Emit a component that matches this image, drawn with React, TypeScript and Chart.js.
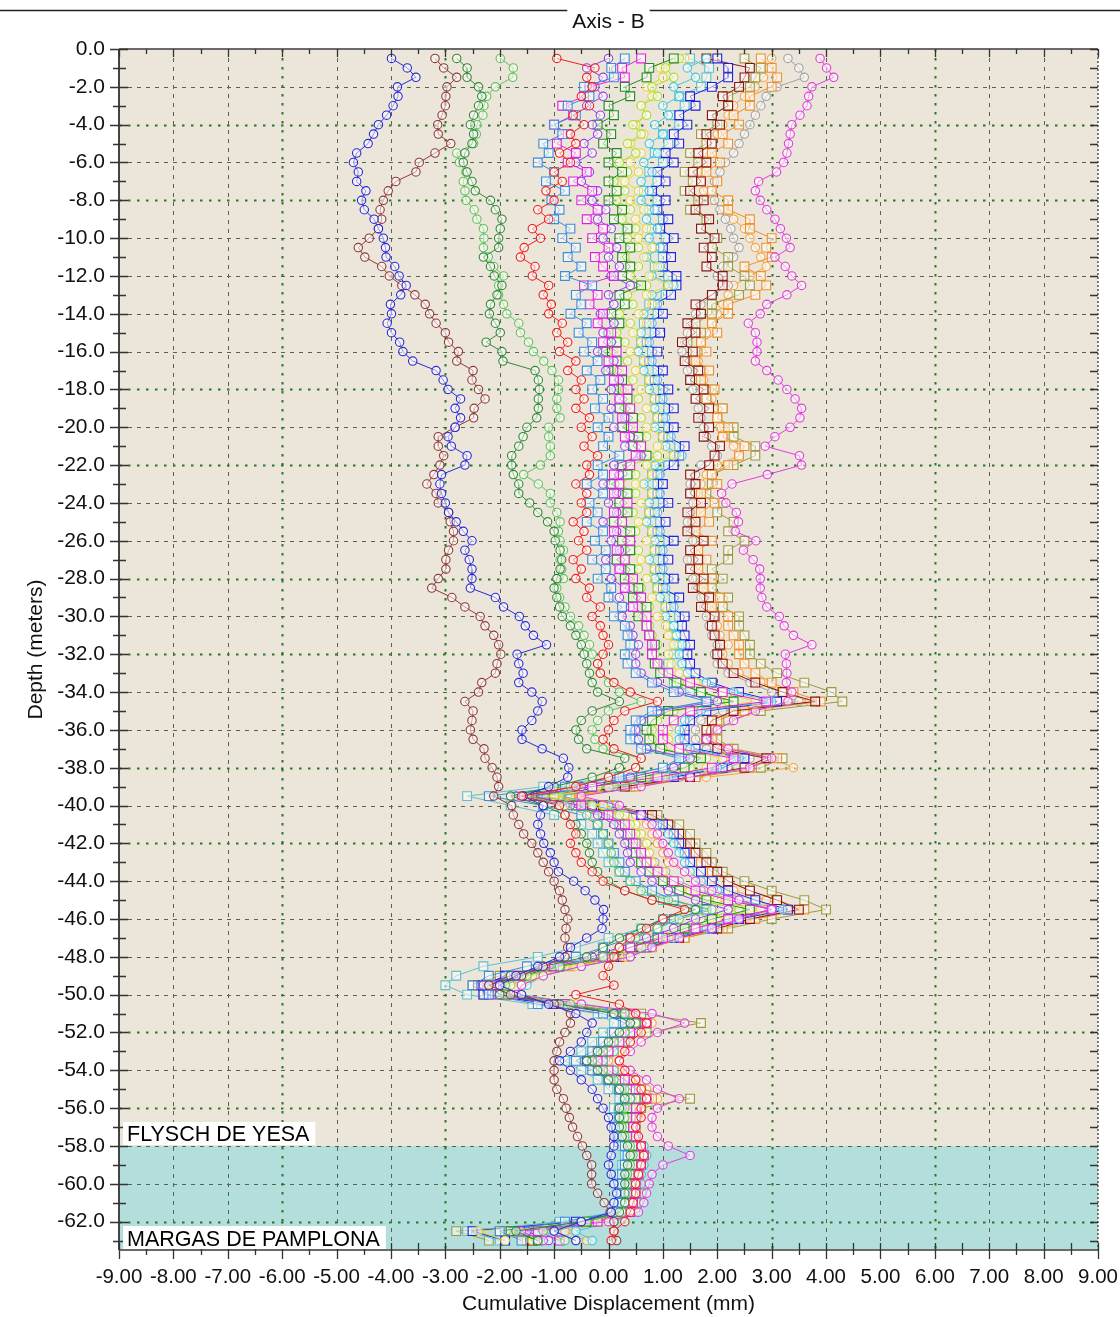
import React, { useEffect, useRef } from 'react';
import { Chart, registerables } from 'chart.js';

Chart.register(...registerables);

const FONT = '"Liberation Sans", Arial, Helvetica, sans-serif';

// Depth of each reading (m), 0.5 m step
const DEPTHS = [
  0.5, 1, 1.5, 2, 2.5, 3, 3.5, 4, 4.5, 5,
  5.5, 6, 6.5, 7, 7.5, 8, 8.5, 9, 9.5, 10,
  10.5, 11, 11.5, 12, 12.5, 13, 13.5, 14, 14.5, 15,
  15.5, 16, 16.5, 17, 17.5, 18, 18.5, 19, 19.5, 20,
  20.5, 21, 21.5, 22, 22.5, 23, 23.5, 24, 24.5, 25,
  25.5, 26, 26.5, 27, 27.5, 28, 28.5, 29, 29.5, 30,
  30.5, 31, 31.5, 32, 32.5, 33, 33.5, 34, 34.5, 35,
  35.5, 36, 36.5, 37, 37.5, 38, 38.5, 39, 39.5, 40,
  40.5, 41, 41.5, 42, 42.5, 43, 43.5, 44, 44.5, 45,
  45.5, 46, 46.5, 47, 47.5, 48, 48.5, 49, 49.5, 50,
  50.5, 51, 51.5, 52, 52.5, 53, 53.5, 54, 54.5, 55,
  55.5, 56, 56.5, 57, 57.5, 58, 58.5, 59, 59.5, 60,
  60.5, 61, 61.5, 62, 62.5, 63,
];

const X_TICKS = [-9, -8, -7, -6, -5, -4, -3, -2, -1, 0, 1, 2, 3, 4, 5, 6, 7, 8, 9];
const Y_TICKS = [0, -2, -4, -6, -8, -10, -12, -14, -16, -18, -20, -22, -24, -26, -28, -30, -32, -34, -36, -38, -40, -42, -44, -46, -48, -50, -52, -54, -56, -58, -60, -62];

const LAYER_BOUNDARY = 58.0;
const LAYER_TOP = 'FLYSCH DE YESA';
const LAYER_BOTTOM = 'MARGAS DE PAMPLONA';

// Cumulative displacement (mm) for each survey
const BLUE_FAR = [
  -3.99, -3.70, -3.54, -3.88, -3.87, -3.96, -4.08, -4.23, -4.32, -4.42,
  -4.63, -4.69, -4.60, -4.63, -4.46, -4.54, -4.49, -4.31, -4.23, -4.14,
  -4.10, -4.09, -3.93, -3.85, -3.72, -3.82, -4.01, -3.99, -4.07, -3.99,
  -3.84, -3.78, -3.60, -3.17, -3.04, -2.95, -2.72, -2.82, -2.72, -2.82,
  -2.95, -2.89,
  -2.60, -2.64, -3.07, -3.10, -3.07, -3.00, -2.94, -2.80, -2.67, -2.51,
  -2.64, -2.56, -2.51, -2.51, -2.54, -2.08, -1.93, -1.64, -1.53, -1.38,
  -1.14, -1.68, -1.65, -1.57, -1.65, -1.41, -1.22, -1.30, -1.41, -1.59,
  -1.59, -1.22, -0.83, -0.73, -0.75, -1.10, -1.57,
  -1.20, -1.25, -1.30, -1.25, -1.19, -1.07, -1.00, -0.92, -0.64, -0.43,
  -0.25, -0.09, -0.10, -0.12, -0.40, -0.70, -0.90, -1.30, -1.70, -2.00,
  -1.60, -1.10, -0.60, -0.30, -0.40, -0.50, -0.70, -0.90, -0.70, -0.50,
  -0.30, -0.20, -0.10, 0.00, 0.05, 0.10, 0.10, 0.05, 0.00, 0.05,
  0.10, 0.15, 0.10, 0.05, -0.50, -1.00, -0.60,
];

const BROWN = [
  -3.19, -3.03, -2.79, -2.97, -2.99, -3.00, -3.06, -3.14, -3.13, -2.90,
  -3.19, -3.48, -3.54, -3.91, -4.05, -4.14, -4.20, -4.17, -4.23, -4.40,
  -4.60, -4.48, -4.17, -4.03, -3.80, -3.56, -3.37, -3.29, -3.17, -3.00,
  -2.94, -2.76, -2.79, -2.49, -2.51, -2.39, -2.27, -2.47, -2.48, -2.82,
  -3.13, -3.13,
  -3.03, -3.10, -3.21, -3.34, -3.17, -3.13, -2.94, -2.91, -2.85, -2.85,
  -2.94, -2.99, -2.99, -3.13, -3.25, -2.88, -2.64, -2.36, -2.27, -2.11,
  -2.02, -1.98, -2.05, -2.08, -2.33, -2.39, -2.64, -2.49, -2.51, -2.54,
  -2.49, -2.29, -2.27, -2.14, -2.05, -2.02, -2.11,
  -1.78, -1.75, -1.65, -1.56, -1.41, -1.30, -1.20, -1.10, -1.00, -0.90,
  -0.85, -0.80, -0.75, -0.78, -0.80, -0.75, -0.80, -1.20, -1.60, -2.20,
  -1.80, -1.00, -0.70, -0.70, -0.80, -0.90, -0.95, -1.00, -1.00, -1.00,
  -0.95, -0.83, -0.78, -0.72, -0.66, -0.57, -0.48, -0.40, -0.31, -0.31,
  -0.31, -0.20, -0.08, 0.03, 0.10, 0.10, 0.15,
];

const DARK_GREEN = [
  -2.79, -2.60, -2.60, -2.39, -2.33, -2.39, -2.48, -2.54, -2.48, -2.51,
  -2.64, -2.67, -2.60, -2.51, -2.45, -2.17, -2.08, -1.96, -1.99, -2.02,
  -2.02, -2.30, -2.17, -2.10, -1.96, -2.05, -2.17, -2.19, -2.08, -1.99,
  -2.25, -1.96, -1.94, -1.35, -1.29, -1.27, -1.29, -1.29, -1.32, -1.50,
  -1.57, -1.65,
  -1.78, -1.78, -1.75, -1.65, -1.65, -1.45, -1.30, -1.12, -1.00, -0.98,
  -0.89, -0.86, -0.89, -0.95, -1.00,
  -0.95, -0.90, -0.85, -0.70, -0.60, -0.50, -0.45, -0.40, -0.35, -0.30,
  -0.20, 0.20, -0.30, -0.50, -0.60, -0.55, -0.40, 0.30, 0.20, -0.30,
  -1.00, -1.80, -1.20,
  -0.80, -0.60, -0.50, -0.40, -0.35, -0.30, -0.20, 0.00, 0.30, 0.80,
  1.60, 1.00, 0.60, 0.20, -0.10, -0.40, -1.20, -1.80, -2.20, -2.00,
  -0.90, 0.10, 0.40, 0.20, 0.00, -0.20, -0.40, -0.20, 0.00, 0.20,
  0.30, 0.20, 0.20, 0.20, 0.25, 0.35, 0.40, 0.35, 0.30, 0.30,
  0.30, 0.30, 0.20, -0.50, -1.70, -1.30,
];

const LIGHT_GREEN = [
  -1.99, -1.75, -1.76, -2.08, -2.24, -2.29, -2.31, -2.42, -2.43, -2.48,
  -2.79, -2.74, -2.62, -2.67, -2.64, -2.62, -2.47, -2.42, -2.30, -2.29,
  -2.30, -2.21, -2.11, -1.93, -2.02, -2.02, -1.93, -1.87, -1.65, -1.62,
  -1.47, -1.38, -1.19, -1.04, -0.92, -0.92, -0.95, -0.95, -0.89, -1.10,
  -1.10, -1.07,
  -1.07, -1.25, -1.56, -1.29, -1.07, -1.07, -0.95, -0.89, -0.92, -0.89,
  -0.83, -0.89, -0.86, -0.83, -0.95,
  -0.90, -0.80, -0.70, -0.55, -0.45, -0.35, -0.30, -0.20, -0.15, 0.00,
  0.20, 0.60, 0.00, -0.20, -0.30, -0.25, -0.10, 0.60, 0.50, 0.00,
  -0.70, -1.50, -0.80,
  -0.40, -0.20, -0.10, 0.00, 0.05, 0.10, 0.20, 0.40, 0.60, 1.10,
  1.90, 1.30, 0.90, 0.50, 0.20, -0.10, -0.90, -1.50, -1.90, -1.90,
  -0.70, 0.30, 0.50, 0.30, 0.10, -0.10, -0.30, -0.10, 0.10, 0.30,
  0.40, 0.30, 0.30, 0.25, 0.30, 0.40, 0.45, 0.40, 0.35, 0.35,
  0.35, 0.30, 0.25, -0.40, -1.20, -0.80,
];

const MAGENTA_FAR = [
  3.89, 4.01, 4.14, 3.74, 3.68, 3.65, 3.52, 3.37, 3.34, 3.31,
  3.28, 3.22, 3.09, 2.76, 2.70, 2.79, 2.91, 3.06, 3.16, 3.27,
  3.34, 3.06, 3.25, 3.37, 3.55, 3.28, 2.91, 2.79, 2.57, 2.70,
  2.73, 2.73, 2.70, 2.91, 3.12, 3.28, 3.43, 3.55, 3.52, 3.34,
  3.06, 2.88,
  3.51, 3.55, 2.92, 2.27, 2.08, 2.16, 2.35, 2.39, 2.33, 2.71,
  2.48, 2.66, 2.78, 2.79, 2.79, 2.82, 2.91, 3.14, 3.23, 3.40,
  3.74, 3.25, 3.27, 3.28, 3.27, 3.37,
  3.30, 2.70, 2.30, 2.00, 1.80, 2.20, 3.00, 2.60, 1.50, 0.60, -0.50, 0.20,
  0.60, 0.80, 0.90, 1.00, 1.10, 1.20, 1.40, 1.60, 1.90, 2.40,
  3.00, 2.40, 1.90, 1.30, 0.80, 0.40, -0.50, -1.20, -1.60, -1.70,
  -0.50, 0.80, 1.40, 0.90, 0.60, 0.40, 0.20, 0.40, 0.70, 0.90,
  1.30, 0.90, 0.80, 0.80, 0.90, 1.10, 1.50, 1.00, 0.80, 0.75,
  0.70, 0.65, 0.55, 0.00, -1.60, -1.20,
];

const GRAY_CIRCLES = [
  3.3, 3.5, 3.6, 3.1, 2.9, 2.8, 2.7, 2.6, 2.5, 2.4,
  2.3, 2.15, 2.05, 1.95, 1.9, 1.95, 2.05, 2.15, 2.25, 2.3,
  2.4, 2.3, 2.1, 2.0, 2.2, 1.9, 1.7, 1.6, 1.5, 1.45,
  1.4, 1.35, 1.4, 1.45, 1.5, 1.55, 1.6, 1.65, 1.7, 1.75,
  1.8, 1.9, 2.0, 1.7, 1.6, 1.5, 1.5, 1.55, 1.5, 1.45,
  1.5, 1.55, 1.5, 1.45, 1.5, 1.55, 1.6, 1.7, 1.75, 1.8,
  1.85, 1.9, 2.0, 1.95, 2.0, 2.2, 2.6, 3.0, 3.5, 2.1,
  1.7, 1.6, 1.6, 1.8, 2.6, 2.2, 1.3, 0.2, -1.1, -0.2,
  0.3, 0.5, 0.6, 0.7, 0.75, 0.85, 1.05, 1.3, 1.7, 2.3,
  3.0, 2.2, 1.7, 1.1, 0.6, 0.2, -0.7, -1.4, -1.8, -1.8,
  -0.7, 0.3, 0.6, 0.4, 0.2, 0.0, -0.2, 0.0, 0.2, 0.4,
  0.6, 0.4, 0.4, 0.4, 0.45, 0.55, 0.6, 0.55, 0.5, 0.5,
  0.5, 0.45, 0.4, -0.2, -1.0, -0.6,
];

const ORANGE_CIRCLES = [
  3.0, 2.95, 2.85, 2.7, 2.5, 2.3, 2.2, 2.1, 2.0, 1.9,
  1.8, 1.75, 1.7, 1.7, 1.75, 1.9, 2.1, 2.3, 2.5, 2.6,
  2.7, 2.8, 2.9, 2.6, 2.3, 2.2, 2.1, 2.0, 1.9, 1.8,
  1.7, 1.65, 1.65, 1.7, 1.75, 1.8, 1.9, 2.0, 2.0, 2.05,
  2.1, 2.3, 2.4, 2.0, 1.8, 1.7, 1.6, 1.65, 1.6, 1.55,
  1.5, 1.6, 1.55, 1.5, 1.55, 1.6, 1.65, 1.75, 1.8, 1.9,
  2.0, 2.05, 2.2, 2.1, 2.2, 2.4, 2.8, 3.2, 3.7, 2.3,
  1.9, 1.8, 1.8, 2.1, 3.0, 3.4, 1.8, 0.5, -0.6, 0.1,
  0.5, 0.7, 0.8, 0.9, 1.0, 1.1, 1.4, 1.8, 2.3, 2.9,
  3.5, 2.5, 1.9, 1.3, 0.8, 0.4, -0.5, -1.2, -1.6, -1.6,
  -0.5, 0.5, 0.8, 0.6, 0.4, 0.2, 0.0, 0.2, 0.5, 0.7,
  0.9, 0.6, 0.55, 0.5, 0.55, 0.65, 0.7, 0.65, 0.6, 0.6,
  0.6, 0.55, 0.5, 0.0, -0.8, -0.4,
];

const RED_CIRCLES = [
  -0.95, -0.25, -0.4, -0.3, -0.5, -0.35, -0.65, -0.45, -0.7, -0.6,
  -0.9, -0.7, -1.0, -0.85, -1.15, -1.0, -1.3, -1.1, -1.4, -1.25,
  -1.55, -1.62, -1.35, -1.4, -1.1, -1.2, -1.05, -1.1, -0.85, -0.95,
  -0.75, -0.9, -0.6, -0.75, -0.5, -0.6, -0.45, -0.6, -0.35, -0.5,
  -0.3, -0.45, -0.2, -0.4, -0.35, -0.6, -0.4, -0.5, -0.4, -0.65,
  -0.45, -0.55, -0.4, -0.65, -0.5, -0.6, -0.35, -0.4, -0.15, -0.3,
  -0.15, -0.1, 0.0, -0.1, -0.2, -0.15, 0.1, 0.4, 0.9, 0.3,
  0.1, 0.0, -0.1, 0.1, 0.6, 0.5, 0.0, -0.6, -1.6, -0.9,
  -0.8, -0.7, -0.6, -0.7, -0.6, -0.5, -0.3, -0.1, 0.3, 0.8,
  1.4, 1.0, 0.7, 0.4, 0.2, 0.1, 0.0, -0.1, 0.1, -0.6,
  0.2, 0.5, 0.7, 0.6, 0.4, 0.3, 0.2, 0.3, 0.5, 0.6,
  0.7, 0.6, 0.6, 0.5, 0.55, 0.6, 0.65, 0.6, 0.55, 0.5,
  0.5, 0.45, 0.4, 0.3, 0.1, 0.05,
];

const LIGHT_BLUE_SQUARES = [
  0.3, 0.05, 0.1, -0.45, -0.35, -0.75, -0.6, -1.0, -0.85, -1.2,
  -1.1, -1.3, -1.0, -1.15, -0.8, -1.05, -0.9, -1.0, -0.7, -0.85,
  -0.6, -0.75, -0.5, -0.8, -0.3, -0.6, -0.5, -0.7, -0.4, -0.55,
  -0.3, -0.45, -0.2, -0.4, -0.15, -0.3, -0.1, -0.25, 0.0, -0.2,
  0.0, -0.1, 0.2, -0.2, -0.1, -0.4, -0.1, -0.35, -0.2, -0.4,
  -0.1, -0.25, -0.05, -0.3, -0.05, -0.2, 0.05, 0.0, 0.25, 0.1,
  0.3, 0.35, 0.4, 0.3, 0.35, 0.5, 0.8, 1.2, 1.8, 0.8,
  0.5, 0.4, 0.4, 0.6, 1.3, 1.0, 0.2, -0.8, -2.2, -1.2,
  -0.5, -0.2, -0.1, 0.0, 0.1, 0.2, 0.3, 0.5, 0.8, 1.2,
  1.8, 1.2, 0.9, 0.4, -0.1, -0.6, -1.5, -2.2, -2.5, -2.2,
  -1.3, -0.1, 0.3, 0.1, -0.1, -0.3, -0.6, -0.3, 0.0, 0.2,
  0.3, 0.2, 0.2, 0.15, 0.2, 0.3, 0.35, 0.3, 0.25, 0.25,
  0.3, 0.25, 0.15, -0.8, -2.0, -1.6,
];

const MAGENTA_SQUARES = [
  0.6, 0.25, 0.3, -0.35, -0.45, -0.85, -0.65, -1.0, -0.75, -0.95,
  -0.6, -0.75, -0.4, -0.65, -0.3, -0.5, -0.2, -0.4, -0.1, -0.3,
  0.0, -0.25, -0.1, 0.1, -0.45, -0.2, -0.35, -0.1, -0.2, 0.05,
  -0.1, 0.15, 0.0, 0.25, 0.1, 0.35, 0.2, 0.4, 0.25, 0.45,
  0.3, 0.6, 0.5, 0.4, 0.1, 0.2, 0.1, 0.35, 0.1, 0.25,
  0.1, 0.4, 0.15, 0.3, 0.2, 0.45, 0.3, 0.6, 0.45, 0.7,
  0.7, 0.75, 0.8, 0.8, 0.9, 1.1, 1.5, 2.1, 2.9, 1.5,
  1.2, 1.0, 1.0, 1.3, 2.3, 1.9, 0.9, -0.3, -1.5, -0.5,
  0.0, 0.3, 0.4, 0.5, 0.6, 0.7, 0.9, 1.2, 1.6, 2.2,
  3.0, 2.2, 1.6, 1.0, 0.4, -0.1, -1.0, -1.7, -2.1, -2.0,
  -0.8, 0.4, 0.7, 0.4, 0.2, 0.0, -0.2, 0.0, 0.3, 0.5,
  0.7, 0.5, 0.5, 0.45, 0.5, 0.6, 0.65, 0.6, 0.55, 0.5,
  0.5, 0.45, 0.4, -0.2, -1.3, -0.9,
];

const PURPLE_CIRCLES = [
  0.0, -0.4, -0.1, -0.25, -0.1, -0.4, -0.15, -0.3, -0.2, -0.45,
  -0.3, -0.6, -0.35, -0.5, -0.2, -0.3, -0.05, -0.2, 0.05, -0.1,
  0.15, 0.0, 0.2, 0.05, 0.4, 0.0, 0.1, -0.15, 0.1, -0.1,
  0.05, -0.2, 0.1, -0.05, 0.2, 0.05, 0.2, 0.05, 0.3, 0.1,
  0.4, 0.3, 0.6, 0.1, 0.2, -0.1, 0.15, 0.0, 0.15, -0.1,
  0.15, 0.05, 0.2, -0.05, 0.2, 0.05, 0.3, 0.2, 0.4, 0.25,
  0.4, 0.45, 0.55, 0.5, 0.5, 0.6, 0.9, 1.3, 2.0, 0.9,
  0.6, 0.5, 0.55, 0.7, 1.5, 1.2, 0.4, -0.5, -1.7, -0.7,
  -0.2, 0.1, 0.2, 0.3, 0.35, 0.4, 0.6, 0.8, 1.1, 1.6,
  2.2, 1.6, 1.2, 0.7, 0.2, -0.3, -1.1, -1.8, -2.3, -2.1,
  -1.0, 0.1, 0.4, 0.2, 0.0, -0.2, -0.4, -0.2, 0.0, 0.2,
  0.4, 0.25, 0.2, 0.2, 0.25, 0.35, 0.4, 0.35, 0.3, 0.3,
  0.35, 0.3, 0.25, -0.5, -1.5, -1.1,
];

const DARK_GREEN_SQUARES = [
  1.2, 0.75, 0.7, 0.3, 0.4, 0.0, 0.1, -0.2, 0.05, -0.1,
  0.15, 0.0, 0.25, 0.0, 0.15, 0.0, 0.25, 0.1, 0.35, 0.2,
  0.4, 0.25, 0.4, 0.25, 0.6, 0.2, 0.3, 0.05, 0.2, 0.0,
  0.15, -0.1, 0.15, 0.0, 0.25, 0.1, 0.35, 0.2, 0.45, 0.25,
  0.55, 0.45, 0.7, 0.25, 0.35, 0.05, 0.35, 0.2, 0.35, 0.1,
  0.4, 0.25, 0.4, 0.15, 0.4, 0.3, 0.55, 0.45, 0.7, 0.55,
  0.7, 0.75, 0.85, 0.8, 0.85, 0.95, 1.25, 1.7, 2.3, 1.1,
  0.8, 0.7, 0.75, 0.95, 1.7, 1.4, 0.6, -0.3, -1.4, -0.6,
  -0.1, 0.2, 0.35, 0.45, 0.5, 0.6, 0.75, 1.0, 1.3, 1.8,
  2.6, 1.9, 1.4, 0.9, 0.4, 0.0, -0.9, -1.6, -2.0, -1.9,
  -0.8, 0.3, 0.5, 0.3, 0.1, -0.1, -0.3, -0.1, 0.2, 0.4,
  0.5, 0.35, 0.35, 0.3, 0.35, 0.45, 0.5, 0.45, 0.4, 0.4,
  0.45, 0.4, 0.3, -0.4, -1.8, -1.3,
];

const YELLOW_GREEN_CIRCLES = [
  1.3, 1.05, 1.2, 0.8, 0.9, 0.6, 0.7, 0.45, 0.6, 0.35,
  0.5, 0.2, 0.35, 0.1, 0.3, 0.15, 0.4, 0.25, 0.5, 0.35,
  0.55, 0.3, 0.55, 0.4, 0.7, 0.35, 0.45, 0.2, 0.4, 0.15,
  0.3, 0.1, 0.35, 0.2, 0.45, 0.3, 0.55, 0.4, 0.6, 0.4,
  0.7, 0.6, 0.9, 0.4, 0.5, 0.2, 0.5, 0.3, 0.45, 0.25,
  0.5, 0.4, 0.55, 0.3, 0.55, 0.4, 0.6, 0.5, 0.75, 0.6,
  0.75, 0.8, 0.9, 0.85, 0.9, 1.0, 1.3, 1.7, 2.2, 1.2,
  0.9, 0.8, 0.8, 1.0, 1.8, 1.5, 0.7, -0.2, -1.2, -0.3,
  0.2, 0.4, 0.5, 0.55, 0.6, 0.7, 0.85, 1.0, 1.3, 1.7,
  2.4, 1.7, 1.3, 0.8, 0.4, 0.1, -0.8, -1.4, -1.8, -1.9,
  -0.8, 0.3, 0.5, 0.3, 0.1, -0.1, -0.3, -0.1, 0.1, 0.3,
  0.5, 0.3, 0.3, 0.3, 0.35, 0.45, 0.5, 0.45, 0.4, 0.4,
  0.45, 0.4, 0.35, -0.3, -1.9, -1.4,
];

const YELLOW_CIRCLES = [
  1.4, 0.95, 1.0, 0.7, 0.8, 0.6, 0.7, 0.5, 0.65, 0.4,
  0.6, 0.4, 0.55, 0.3, 0.55, 0.4, 0.65, 0.5, 0.7, 0.55,
  0.8, 0.65, 0.9, 0.75, 1.1, 0.7, 0.8, 0.55, 0.7, 0.45,
  0.6, 0.4, 0.65, 0.5, 0.75, 0.6, 0.85, 0.7, 0.9, 0.7,
  1.0, 0.9, 1.2, 0.7, 0.8, 0.5, 0.8, 0.6, 0.75, 0.55,
  0.8, 0.7, 0.85, 0.6, 0.85, 0.7, 0.9, 0.8, 1.05, 0.9,
  1.05, 1.1, 1.2, 1.1, 1.15, 1.3, 1.6, 2.1, 2.7, 1.5,
  1.2, 1.1, 1.1, 1.3, 2.1, 1.8, 1.0, 0.0, -1.0, -0.1,
  0.3, 0.5, 0.6, 0.7, 0.75, 0.8, 1.0, 1.2, 1.5, 2.0,
  2.8, 2.0, 1.6, 1.1, 0.6, 0.3, -0.6, -1.3, -1.6, -1.7,
  -0.6, 0.4, 0.6, 0.4, 0.2, 0.0, -0.2, 0.0, 0.2, 0.4,
  0.6, 0.4, 0.4, 0.4, 0.45, 0.55, 0.6, 0.55, 0.5, 0.5,
  0.55, 0.5, 0.45, -0.1, -2.4, -1.9,
];

const CYAN_CIRCLES = [
  1.8, 1.45, 1.6, 1.2, 1.3, 1.0, 1.1, 0.85, 1.0, 0.75,
  0.9, 0.65, 0.8, 0.6, 0.75, 0.6, 0.85, 0.7, 0.9, 0.75,
  0.95, 0.7, 0.95, 0.8, 1.2, 0.8, 0.9, 0.65, 0.8, 0.6,
  0.75, 0.55, 0.8, 0.65, 0.9, 0.75, 1.0, 0.85, 1.05, 0.85,
  1.15, 1.05, 1.35, 0.85, 0.95, 0.65, 0.95, 0.75, 0.9, 0.7,
  0.95, 0.85, 1.0, 0.75, 1.0, 0.85, 1.05, 0.95, 1.2, 1.05,
  1.2, 1.25, 1.35, 1.3, 1.35, 1.45, 1.8, 2.3, 3.0, 1.7,
  1.4, 1.3, 1.3, 1.5, 2.4, 2.0, 1.1, 0.1, -0.9, 0.0,
  0.6, 0.9, 1.1, 1.2, 1.3, 1.4, 1.5, 1.7, 2.0, 2.4,
  3.2, 2.3, 1.8, 1.2, 0.7, 0.4, -0.5, -1.2, -1.5, -1.6,
  -0.5, 0.5, 0.7, 0.5, 0.3, 0.1, -0.1, 0.1, 0.3, 0.5,
  0.7, 0.5, 0.5, 0.5, 0.55, 0.65, 0.7, 0.65, 0.6, 0.6,
  0.6, 0.55, 0.5, 0.1, -0.6, -0.3,
];

const BLUE_SQUARES = [
  2.0, 2.2, 2.2, 1.9, 1.5, 1.6, 1.3, 1.45, 1.2, 1.3,
  1.05, 1.2, 0.9, 1.05, 0.8, 1.05, 0.9, 1.1, 0.95, 1.2,
  1.0, 1.15, 1.0, 1.25, 1.25, 1.15, 0.85, 1.0, 0.75, 0.95,
  0.7, 0.9, 0.75, 1.0, 0.85, 1.1, 0.95, 1.2, 1.0, 1.2,
  1.1, 1.4, 1.3, 1.2, 0.9, 1.0, 0.9, 1.1, 0.85, 1.05,
  0.9, 1.2, 0.95, 1.1, 0.95, 1.2, 1.0, 1.3, 1.15, 1.4,
  1.35, 1.4, 1.5, 1.45, 1.5, 1.6, 1.9, 2.4, 3.1, 1.8,
  1.5, 1.4, 1.4, 1.6, 2.5, 2.1, 1.2, 0.0, -1.3, -0.3,
  0.6, 1.0, 1.2, 1.3, 1.4, 1.5, 1.7, 1.9, 2.2, 2.7,
  3.3, 2.4, 1.9, 1.2, 0.6, 0.1, -1.0, -1.9, -2.3, -2.3,
  -1.0, 0.2, 0.5, 0.3, 0.1, -0.2, -0.4, -0.2, 0.0, 0.2,
  0.4, 0.25, 0.25, 0.25, 0.3, 0.4, 0.45, 0.4, 0.35, 0.35,
  0.4, 0.35, 0.3, -0.6, -2.5, -1.9,
];

const LIGHT_CYAN_SQUARES = [
  1.5, 1.85, 1.8, 1.7, 1.3, 1.4, 1.15, 1.3, 1.0, 1.1,
  0.85, 1.0, 0.75, 0.9, 0.65, 0.9, 0.75, 1.0, 0.8, 1.05,
  0.85, 1.0, 0.85, 1.1, 1.1, 1.05, 0.75, 0.9, 0.65, 0.85,
  0.6, 0.8, 0.65, 0.9, 0.75, 1.0, 0.85, 1.1, 0.9, 1.1,
  1.0, 1.3, 1.2, 1.1, 0.8, 0.9, 0.8, 1.0, 0.75, 0.95,
  0.8, 1.1, 0.85, 1.0, 0.85, 1.1, 0.9, 1.2, 1.05, 1.3,
  1.2, 1.25, 1.3, 1.2, 1.1, 1.0, 1.2, 1.5, 1.8, 0.9,
  0.6, 0.5, 0.5, 0.7, 1.4, 1.0, 0.1, -1.2, -2.6, -1.8,
  -1.0, -0.5, -0.3, -0.2, -0.1, 0.0, 0.2, 0.4, 0.7, 1.0,
  1.6, 1.0, 0.6, 0.0, -0.6, -1.3, -2.3, -2.8, -3.0, -2.6,
  -1.4, -0.2, 0.1, -0.1, -0.3, -0.5, -0.8, -0.5, -0.2, 0.0,
  0.2, 0.1, 0.1, 0.1, 0.15, 0.25, 0.3, 0.25, 0.2, 0.2,
  0.25, 0.2, 0.1, -0.9, -2.6, -2.0,
];

const DARK_RED_SQUARES = [
  1.8, 2.6, 2.5, 2.4, 2.1, 2.2, 1.9, 2.05, 1.8, 1.9,
  1.65, 1.8, 1.55, 1.7, 1.5, 1.75, 1.6, 1.85, 1.7, 1.95,
  1.75, 1.9, 1.8, 2.1, 2.1, 1.9, 1.6, 1.7, 1.45, 1.6,
  1.35, 1.55, 1.4, 1.65, 1.5, 1.75, 1.6, 1.85, 1.65, 1.85,
  1.75, 2.05, 1.95, 1.85, 1.5, 1.6, 1.5, 1.7, 1.45, 1.6,
  1.45, 1.75, 1.5, 1.65, 1.5, 1.75, 1.55, 1.85, 1.7, 1.95,
  1.9, 1.95, 2.05, 2.0, 2.1, 2.3, 2.7, 3.2, 3.8, 2.3,
  1.9, 1.8, 1.8, 2.0, 2.9, 2.5, 1.5, 0.3, -1.0, -0.1,
  0.8, 1.1, 1.3, 1.5, 1.6, 1.8, 2.0, 2.2, 2.6, 3.1,
  3.5, 2.6, 2.0, 1.3, 0.7, 0.2, -0.9, -1.8, -2.4, -2.2,
  -1.0, 0.3, 0.6, 0.4, 0.2, 0.0, -0.3, -0.1, 0.2, 0.4,
  0.6, 0.4, 0.4, 0.35, 0.4, 0.5, 0.55, 0.5, 0.45, 0.45,
  0.5, 0.45, 0.4, -0.3, -1.9, -1.4,
];

const ORANGE_SQUARES = [
  2.8, 3.0, 3.1, 3.0, 2.6, 2.6, 2.3, 2.4, 2.1, 2.2,
  1.9, 2.05, 1.8, 2.0, 1.9, 2.2, 2.2, 2.6, 2.6, 3.0,
  2.9, 3.0, 2.5, 2.8, 2.9, 2.7, 2.2, 2.2, 1.9, 2.0,
  1.7, 1.8, 1.6, 1.85, 1.7, 1.95, 1.8, 2.1, 2.0, 2.2,
  2.1, 2.5, 2.4, 2.2, 1.9, 2.0, 1.7, 1.95, 1.7, 1.85,
  1.6, 1.9, 1.65, 1.8, 1.65, 1.9, 1.75, 2.05, 1.9, 2.2,
  2.2, 2.3, 2.4, 2.4, 2.5, 2.7, 3.0, 3.4, 3.9, 2.5,
  2.0, 1.9, 1.9, 2.2, 3.1, 2.6, 1.6, 0.5, -0.7, 0.0,
  0.7, 1.0, 1.2, 1.4, 1.5, 1.7, 1.9, 2.2, 2.6, 3.1,
  3.6, 2.7, 2.1, 1.4, 0.8, 0.3, -0.7, -1.5, -2.0, -1.9,
  -0.8, 0.4, 0.7, 0.5, 0.3, 0.1, -0.1, 0.1, 0.4, 0.6,
  0.8, 0.5, 0.5, 0.45, 0.5, 0.6, 0.65, 0.6, 0.55, 0.55,
  0.55, 0.5, 0.45, -0.2, -2.0, -1.5,
];

const OLIVE_SQUARES = [
  2.5, 2.8, 2.7, 2.6, 2.2, 2.2, 1.9, 2.0, 1.7, 1.8,
  1.5, 1.65, 1.4, 1.55, 1.4, 1.65, 1.5, 1.8, 1.7, 2.0,
  1.9, 2.2, 2.2, 2.5, 2.6, 2.4, 1.9, 1.9, 1.6, 1.7,
  1.45, 1.6, 1.45, 1.7, 1.6, 1.9, 1.8, 2.1, 2.0, 2.3,
  2.3, 2.7, 2.7, 2.3, 1.9, 1.9, 1.8, 2.1, 2.0, 2.3,
  2.2, 2.5, 2.2, 2.2, 1.9, 2.1, 1.9, 2.2, 2.1, 2.4,
  2.4, 2.5, 2.6, 2.6, 2.8, 3.1, 3.6, 4.1, 4.3, 2.8,
  2.2, 2.0, 2.0, 2.3, 3.2, 2.8, 1.6, 0.4, -0.9, 0.1,
  0.9, 1.3, 1.5, 1.6, 1.8, 1.9, 2.1, 2.5, 3.0, 3.6,
  4.0, 3.0, 2.2, 1.4, 0.7, 0.1, -1.0, -2.0, -2.5, -2.3,
  -0.9, 0.6, 1.7, 0.7, 0.3, -0.1, -0.3, -0.1, 0.3, 0.6,
  1.5, 0.6, 0.5, 0.5, 0.5, 0.6, 0.65, 0.6, 0.55, 0.55,
  0.6, 0.5, 0.45, -0.4, -2.8, -2.2,
];

type Marker = 'circle' | 'rect';
const SERIES: { values: number[]; color: string; marker: Marker }[] = [
  { values: RED_CIRCLES, color: '#f01e1e', marker: 'circle' },
  { values: BLUE_FAR, color: '#2a2ad6', marker: 'circle' },
  { values: BROWN, color: '#8e3a3a', marker: 'circle' },
  { values: DARK_GREEN, color: '#2f8a36', marker: 'circle' },
  { values: LIGHT_GREEN, color: '#62c25e', marker: 'circle' },
  { values: MAGENTA_FAR, color: '#e03ce0', marker: 'circle' },
  { values: LIGHT_BLUE_SQUARES, color: '#3a8cdc', marker: 'rect' },
  { values: MAGENTA_SQUARES, color: '#e020e0', marker: 'rect' },
  { values: PURPLE_CIRCLES, color: '#9040ea', marker: 'circle' },
  { values: DARK_GREEN_SQUARES, color: '#1f8a1f', marker: 'rect' },
  { values: YELLOW_GREEN_CIRCLES, color: '#b0dc2c', marker: 'circle' },
  { values: YELLOW_CIRCLES, color: '#e6d43c', marker: 'circle' },
  { values: CYAN_CIRCLES, color: '#3cc8da', marker: 'circle' },
  { values: BLUE_SQUARES, color: '#1e1ee0', marker: 'rect' },
  { values: LIGHT_CYAN_SQUARES, color: '#5ec0cc', marker: 'rect' },
  { values: DARK_RED_SQUARES, color: '#8a1414', marker: 'rect' },
  { values: ORANGE_SQUARES, color: '#f0902c', marker: 'rect' },
  { values: OLIVE_SQUARES, color: '#9c9a40', marker: 'rect' },
  { values: GRAY_CIRCLES, color: '#a2a2a2', marker: 'circle' },
  { values: ORANGE_CIRCLES, color: '#f4a444', marker: 'circle' },
];

const BEIGE = '#ece6da';
const TEAL = '#b3dedb';
const GREEN_ROWS = [4, 8, 18, 22, 28, 32, 38, 42, 52, 56, 62];
const GREEN_COLS = [-6, -3, 3, 6];

const framePlugin = {
  id: 'frame',
  beforeDraw(chart: any) {
    const { ctx, chartArea: a, scales } = chart;
    const x = scales.x;
    const y = scales.y;
    ctx.save();
    ctx.fillStyle = '#ffffff';
    ctx.fillRect(0, 0, chart.width, chart.height);
    ctx.fillStyle = BEIGE;
    ctx.fillRect(a.left, a.top, a.right - a.left, a.bottom - a.top);
    const yb = y.getPixelForValue(-LAYER_BOUNDARY);
    ctx.fillStyle = TEAL;
    ctx.fillRect(a.left, yb, a.right - a.left, a.bottom - yb);

    const dashedStyle = () => {
      ctx.strokeStyle = '#58634e';
      ctx.lineWidth = 1;
      ctx.setLineDash([4, 5]);
    };
    const greenStyle = () => {
      ctx.strokeStyle = '#237a23';
      ctx.lineWidth = 2;
      ctx.setLineDash([2.5, 6.5]);
    };
    for (let d = 2; d <= 62; d += 2) {
      const py = Math.round(y.getPixelForValue(-d)) + 0.5;
      if (GREEN_ROWS.includes(d)) greenStyle(); else dashedStyle();
      ctx.beginPath();
      ctx.moveTo(a.left, py);
      ctx.lineTo(a.right, py);
      ctx.stroke();
    }
    for (let v = -8; v <= 8; v += 1) {
      const px = Math.round(x.getPixelForValue(v)) + 0.5;
      if (GREEN_COLS.includes(v)) greenStyle(); else dashedStyle();
      ctx.beginPath();
      ctx.moveTo(px, a.top);
      ctx.lineTo(px, a.bottom);
      ctx.stroke();
    }
    ctx.restore();
  },
  afterDatasetsDraw(chart: any) {
    const { ctx, chartArea: a, scales } = chart;
    const x = scales.x;
    const y = scales.y;
    ctx.save();
    ctx.setLineDash([]);
    ctx.strokeStyle = '#6a6a6a';
    ctx.lineWidth = 2;
    ctx.beginPath();
    ctx.moveTo(a.left, a.top);
    ctx.lineTo(a.right, a.top);
    ctx.moveTo(a.left, a.bottom);
    ctx.lineTo(a.right, a.bottom);
    ctx.stroke();
    ctx.strokeStyle = '#444';
    ctx.beginPath();
    ctx.moveTo(a.left, a.top);
    ctx.lineTo(a.left, a.bottom);
    ctx.stroke();
    ctx.strokeStyle = '#333';
    ctx.lineWidth = 1.2;
    ctx.setLineDash([2, 2]);
    ctx.beginPath();
    ctx.moveTo(a.right, a.top);
    ctx.lineTo(a.right, a.bottom);
    ctx.stroke();
    ctx.setLineDash([]);

    ctx.strokeStyle = '#333';
    ctx.lineWidth = 1.3;
    ctx.beginPath();
    for (let v = -9; v <= 9.001; v += 0.5) {
      const px = Math.round(x.getPixelForValue(v)) + 0.5;
      const major = Math.abs(v - Math.round(v)) < 1e-6;
      ctx.moveTo(px, a.bottom - 7);
      ctx.lineTo(px, a.bottom + (major ? 9 : 5));
      ctx.moveTo(px, a.top);
      ctx.lineTo(px, a.top + (major ? 8 : 5));
    }
    for (let d = 0; d <= 63; d += 1) {
      const py = Math.round(y.getPixelForValue(-d)) + 0.5;
      const major = d % 2 === 0;
      ctx.moveTo(a.left - (major ? 9 : 6), py);
      ctx.lineTo(a.left + (major ? 9 : 7), py);
      ctx.moveTo(a.right, py);
      ctx.lineTo(a.right - 8, py);
    }
    ctx.stroke();

    ctx.font = `21.5px ${FONT}`;
    ctx.textBaseline = 'alphabetic';
    ctx.textAlign = 'left';
    const drawLabel = (text: string, bottom: number) => {
      const w = ctx.measureText(text).width;
      ctx.fillStyle = '#ffffff';
      ctx.fillRect(a.left + 4, bottom - 23, w + 10, 23);
      ctx.fillStyle = '#000';
      ctx.fillText(text, a.left + 8, bottom - 3.5);
    };
    drawLabel(LAYER_TOP, y.getPixelForValue(-LAYER_BOUNDARY) - 1);
    drawLabel(LAYER_BOTTOM, a.bottom - 1);

    ctx.strokeStyle = '#222';
    ctx.lineWidth = 1.3;
    ctx.beginPath();
    ctx.moveTo(0, 10.5);
    ctx.lineTo(chart.width, 10.5);
    ctx.stroke();
    ctx.font = `21px ${FONT}`;
    const title = 'Axis - B';
    const tw = ctx.measureText(title).width;
    const cx = (a.left + a.right) / 2;
    ctx.fillStyle = '#fff';
    ctx.fillRect(cx - tw / 2 - 5, 0, tw + 10, 34);
    ctx.fillStyle = '#111';
    ctx.textAlign = 'center';
    ctx.textBaseline = 'middle';
    ctx.fillText(title, cx, 22);

    ctx.fillText('Cumulative Displacement (mm)', cx, 1304);
    ctx.save();
    ctx.translate(36, (a.top + a.bottom) / 2);
    ctx.rotate(-Math.PI / 2);
    ctx.fillText('Depth (meters)', 0, 0);
    ctx.restore();
    ctx.restore();
  },
};

export default function App() {
  const ref = useRef<HTMLCanvasElement | null>(null);
  useEffect(() => {
    if (!ref.current) return;
    const datasets = SERIES.map((s) => {
      const n = Math.min(s.values.length, DEPTHS.length);
      const data = [] as { x: number; y: number }[];
      for (let i = 0; i < n; i++) data.push({ x: s.values[i], y: -DEPTHS[i] });
      return {
        data,
        showLine: true,
        borderColor: s.color,
        borderWidth: 1,
        pointStyle: s.marker,
        pointRadius: s.marker === 'rect' ? 6.2 : 4.2,
        pointBorderColor: s.color,
        pointBorderWidth: 1.1,
        pointBackgroundColor: 'rgba(255,255,255,0.5)',
        clip: 4,
      };
    });
    const chart = new Chart(ref.current, {
      type: 'scatter',
      data: { datasets } as any,
      plugins: [framePlugin as any],
      options: {
        responsive: false,
        animation: false,
        devicePixelRatio: 1,
        layout: { padding: { top: 49, right: 22, left: 0, bottom: 0 } },
        plugins: {
          legend: { display: false },
          tooltip: { enabled: false },
          title: { display: false },
        },
        scales: {
          x: {
            type: 'linear',
            position: 'bottom',
            min: -9,
            max: 9,
            afterBuildTicks: (s: any) => {
              s.ticks = X_TICKS.map((v) => ({ value: v }));
            },
            afterFit: (s: any) => {
              s.height = 67;
              s.paddingLeft = 0;
              s.paddingRight = 0;
            },
            grid: { display: false, drawTicks: false },
            border: { display: false },
            ticks: {
              autoSkip: false,
              maxRotation: 0,
              padding: 15,
              color: '#111',
              font: { size: 20.5, family: FONT },
              callback: (v: any) => Number(v).toFixed(2),
            },
          },
          y: {
            type: 'linear',
            min: -63.5,
            max: 0,
            afterBuildTicks: (s: any) => {
              s.ticks = Y_TICKS.map((v) => ({ value: v }));
            },
            afterFit: (s: any) => {
              s.width = 119;
              s.paddingTop = 0;
              s.paddingBottom = 0;
            },
            grid: { display: false, drawTicks: false },
            border: { display: false },
            ticks: {
              autoSkip: false,
              padding: 14,
              color: '#111',
              font: { size: 21, family: FONT },
              callback: (v: any) => Number(v).toFixed(1),
            },
          },
        },
      } as any,
    });
    return () => chart.destroy();
  }, []);
  return (
    <div style={{ position: 'absolute', left: 0, top: 0, width: 1120, height: 1317, background: '#fff' }}>
      <canvas ref={ref} width={1120} height={1317} style={{ width: 1120, height: 1317, display: 'block' }} />
    </div>
  );
}
